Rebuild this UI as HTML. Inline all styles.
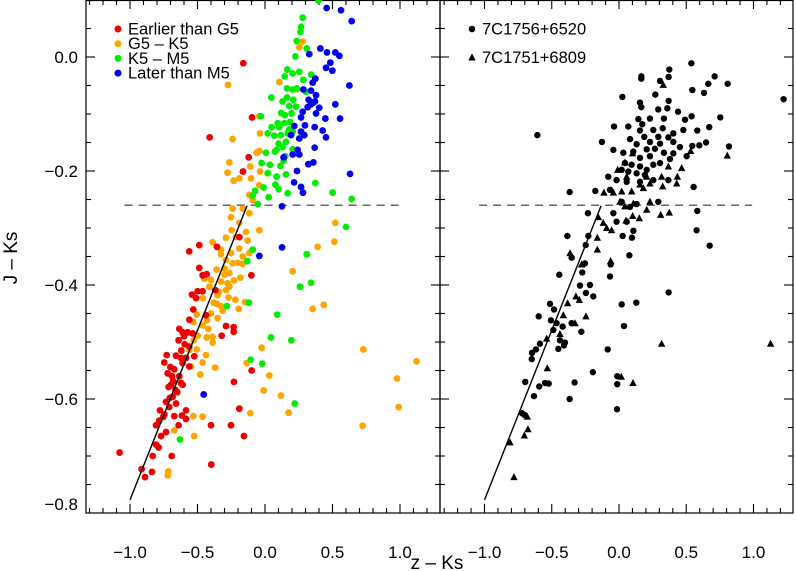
<!DOCTYPE html>
<html><head><meta charset="utf-8"><style>
html,body{margin:0;padding:0;background:#fff}
svg{display:block;font-family:"Liberation Sans",sans-serif}
</style></head><body>
<svg id="chart" width="796" height="571" viewBox="0 0 796 571"></svg>
<script>
const xTicks=[-1.0,-0.5,0.0,0.5,1.0];
const xTickLabels=["−1.0","−0.5","0.0","0.5","1.0"];
const yTicks=[0.0,-0.2,-0.4,-0.6,-0.8];
const yTickLabels=["0.0","−0.2","−0.4","−0.6","−0.8"];
const dashY=-0.26;
const fitLineX=[-1.0,-0.133];
const fitLineY=[-0.777,-0.261];
const redPts=[[-0.161,-0.011],[-0.096,-0.106],[-0.410,-0.141],[-0.121,-0.176],[-0.163,-0.201],[-0.561,-0.341],[-0.487,-0.330],[-0.356,-0.333],[-0.190,-0.316],[-0.487,-0.370],[-0.462,-0.383],[-0.432,-0.381],[-0.101,-0.383],[-0.499,-0.411],[-0.462,-0.411],[-0.541,-0.417],[-0.511,-0.423],[-0.368,-0.409],[-0.531,-0.443],[-0.437,-0.453],[-0.289,-0.472],[-0.232,-0.474],[-0.232,-0.482],[-0.321,-0.489],[-0.635,-0.477],[-0.610,-0.483],[-0.573,-0.483],[-0.536,-0.485],[-0.640,-0.497],[-0.595,-0.504],[-0.561,-0.508],[-0.728,-0.523],[-0.659,-0.524],[-0.622,-0.528],[-0.585,-0.528],[-0.524,-0.525],[-0.746,-0.536],[-0.610,-0.537],[-0.561,-0.543],[-0.672,-0.548],[-0.721,-0.555],[-0.689,-0.560],[-0.635,-0.560],[-0.099,-0.550],[-0.622,-0.572],[-0.696,-0.575],[-0.714,-0.579],[-0.664,-0.584],[-0.610,-0.575],[-0.230,-0.570],[-0.684,-0.596],[-0.733,-0.605],[-0.659,-0.608],[-0.709,-0.614],[-0.778,-0.620],[-0.585,-0.620],[-0.190,-0.617],[-0.753,-0.631],[-0.672,-0.630],[-0.615,-0.629],[-0.585,-0.635],[-0.783,-0.638],[-0.807,-0.646],[-0.640,-0.646],[-0.400,-0.646],[-0.252,-0.646],[-0.733,-0.658],[-0.770,-0.665],[-0.156,-0.665],[-0.807,-0.680],[-0.788,-0.685],[-1.077,-0.694],[-0.832,-0.700],[-0.691,-0.700],[-0.398,-0.715],[-0.914,-0.723],[-0.837,-0.728],[-0.889,-0.737],[-0.650,-0.588],[-0.700,-0.544],[-0.620,-0.515],[-0.680,-0.569],[-0.705,-0.598],[-0.745,-0.627],[-0.600,-0.490],[-0.560,-0.461]];
const orangePts=[[-0.274,-0.049],[0.279,0.027],[0.254,0.017],[0.106,-0.044],[0.235,-0.057],[-0.042,-0.104],[-0.240,-0.144],[-0.037,-0.134],[-0.062,-0.168],[-0.042,-0.165],[-0.264,-0.185],[-0.109,-0.192],[-0.277,-0.203],[-0.190,-0.213],[-0.232,-0.217],[-0.104,-0.213],[-0.037,-0.201],[-0.042,-0.225],[-0.116,-0.242],[-0.091,-0.251],[-0.240,-0.266],[-0.165,-0.266],[-0.252,-0.281],[-0.116,-0.274],[-0.190,-0.291],[-0.141,-0.307],[-0.042,-0.304],[-0.247,-0.304],[-0.289,-0.317],[-0.215,-0.316],[-0.128,-0.322],[-0.388,-0.325],[-0.326,-0.338],[-0.190,-0.336],[-0.116,-0.344],[0.521,-0.291],[0.514,-0.324],[0.390,-0.333],[-0.252,-0.344],[-0.165,-0.350],[-0.326,-0.346],[-0.289,-0.356],[-0.240,-0.362],[-0.202,-0.361],[-0.165,-0.363],[-0.264,-0.379],[-0.358,-0.373],[-0.301,-0.371],[-0.183,-0.387],[-0.450,-0.389],[-0.400,-0.391],[-0.326,-0.394],[-0.277,-0.397],[-0.264,-0.403],[-0.289,-0.409],[-0.412,-0.403],[-0.351,-0.418],[-0.462,-0.423],[-0.220,-0.426],[-0.148,-0.430],[-0.356,-0.433],[-0.326,-0.437],[-0.195,-0.442],[-0.314,-0.445],[-0.400,-0.450],[-0.506,-0.452],[-0.432,-0.462],[-0.351,-0.458],[-0.531,-0.465],[-0.462,-0.471],[-0.420,-0.477],[-0.499,-0.489],[-0.432,-0.492],[-0.388,-0.491],[-0.528,-0.497],[-0.388,-0.501],[-0.506,-0.513],[0.205,-0.376],[0.353,-0.442],[0.435,-0.435],[-0.561,-0.514],[-0.437,-0.523],[-0.462,-0.536],[-0.548,-0.543],[-0.370,-0.545],[-0.136,-0.537],[-0.479,-0.557],[-0.025,-0.510],[0.032,-0.559],[-0.010,-0.585],[0.118,-0.594],[-0.109,-0.625],[0.175,-0.624],[-0.531,-0.630],[-0.462,-0.631],[-0.672,-0.655],[-0.524,-0.665],[-0.716,-0.727],[-0.721,-0.734],[0.728,-0.513],[1.123,-0.534],[0.978,-0.564],[0.990,-0.614],[0.723,-0.647],[-0.300,-0.382],[-0.340,-0.412],[-0.380,-0.431],[-0.270,-0.422],[-0.230,-0.392]];
const greenPts=[[0.279,0.069],[0.267,0.053],[0.262,0.044],[0.235,0.028],[0.309,0.015],[0.225,0.001],[0.165,-0.022],[0.205,-0.029],[0.254,-0.026],[0.146,-0.034],[0.284,-0.040],[0.343,-0.031],[0.163,-0.055],[0.205,-0.057],[0.235,-0.055],[0.047,-0.071],[0.163,-0.071],[0.210,-0.075],[0.304,-0.061],[0.230,-0.087],[0.180,-0.086],[0.146,-0.102],[0.197,-0.099],[-0.030,-0.104],[0.094,-0.116],[0.143,-0.116],[0.106,-0.123],[0.185,-0.114],[0.049,-0.123],[0.020,-0.134],[0.069,-0.138],[0.118,-0.137],[0.168,-0.134],[0.205,-0.131],[0.101,-0.152],[0.131,-0.158],[0.155,-0.149],[0.086,-0.163],[0.205,-0.162],[0.007,-0.168],[0.074,-0.166],[0.150,-0.174],[0.138,-0.182],[0.037,-0.189],[0.114,-0.191],[-0.025,-0.186],[0.020,-0.204],[0.086,-0.210],[0.155,-0.206],[0.077,-0.224],[-0.010,-0.229],[-0.074,-0.235],[0.101,-0.232],[0.168,-0.239],[-0.091,-0.243],[-0.054,-0.258],[0.027,-0.246],[0.373,-0.221],[0.501,-0.238],[0.642,-0.249],[0.600,-0.298],[0.309,-0.346],[0.395,0.099],[-0.091,-0.338],[-0.131,-0.358],[0.311,-0.346],[0.259,-0.403],[0.341,-0.396],[-0.119,-0.431],[-0.282,-0.437],[0.091,-0.452],[0.044,-0.492],[0.195,-0.497],[-0.106,-0.531],[-0.020,-0.538],[0.220,-0.608],[-0.630,-0.671],[0.120,-0.098],[0.180,-0.127],[0.130,-0.078]];
const bluePts=[[0.457,0.086],[0.563,0.082],[0.642,0.063],[0.410,0.015],[0.328,0.005],[0.459,0.008],[0.521,0.008],[0.551,0.002],[0.484,-0.010],[0.452,-0.019],[0.499,-0.024],[0.373,-0.038],[0.353,-0.045],[0.341,-0.059],[0.284,-0.057],[0.378,-0.067],[0.625,-0.050],[0.323,-0.075],[0.353,-0.081],[0.402,-0.089],[0.521,-0.083],[0.316,-0.088],[0.378,-0.099],[0.279,-0.096],[0.267,-0.106],[0.447,-0.108],[0.556,-0.108],[0.217,-0.121],[0.296,-0.120],[0.368,-0.123],[0.267,-0.131],[0.193,-0.137],[0.291,-0.137],[0.427,-0.129],[0.452,-0.141],[0.254,-0.143],[0.242,-0.163],[0.205,-0.171],[0.254,-0.171],[0.368,-0.159],[0.138,-0.176],[0.321,-0.188],[0.358,-0.185],[0.237,-0.200],[0.630,-0.205],[0.215,-0.220],[0.267,-0.228],[0.281,-0.238],[0.126,-0.262],[0.126,-0.334],[-0.042,-0.349],[-0.454,-0.592],[0.340,-0.083],[0.370,-0.078]];
const circlePts=[[0.538,-0.011],[0.374,-0.022],[0.166,-0.034],[0.166,-0.038],[0.305,-0.042],[0.369,-0.035],[0.664,-0.047],[0.711,-0.034],[0.808,-0.047],[0.545,-0.058],[0.632,-0.063],[0.025,-0.070],[0.270,-0.066],[0.156,-0.080],[0.166,-0.088],[0.369,-0.077],[0.359,-0.090],[0.292,-0.092],[0.439,-0.096],[0.540,-0.104],[0.753,-0.106],[1.224,-0.074],[0.144,-0.109],[0.230,-0.108],[0.334,-0.108],[0.491,-0.110],[-0.607,-0.137],[-0.037,-0.122],[0.069,-0.122],[0.173,-0.118],[0.156,-0.129],[0.255,-0.128],[0.325,-0.125],[0.404,-0.134],[0.478,-0.128],[0.582,-0.129],[0.671,-0.123],[0.188,-0.140],[0.292,-0.140],[0.367,-0.141],[0.082,-0.144],[0.131,-0.153],[0.230,-0.149],[0.305,-0.152],[0.404,-0.149],[0.453,-0.158],[-0.127,-0.149],[0.545,-0.156],[0.597,-0.155],[0.647,-0.150],[0.818,-0.157],[-0.042,-0.163],[0.032,-0.168],[0.106,-0.166],[0.206,-0.162],[0.267,-0.161],[0.334,-0.168],[0.404,-0.169],[0.503,-0.174],[0.156,-0.177],[0.230,-0.174],[0.305,-0.186],[0.379,-0.179],[0.044,-0.186],[0.094,-0.189],[0.156,-0.192],[0.206,-0.198],[0.255,-0.189],[0.020,-0.198],[0.069,-0.201],[0.131,-0.204],[0.193,-0.207],[-0.080,-0.210],[-0.018,-0.216],[0.057,-0.219],[0.156,-0.219],[0.255,-0.216],[0.367,-0.216],[0.555,-0.228],[-0.367,-0.237],[-0.176,-0.235],[-0.067,-0.233],[0.020,-0.254],[0.082,-0.263],[0.131,-0.258],[0.292,-0.254],[0.582,-0.270],[-0.231,-0.274],[-0.042,-0.274],[-0.018,-0.289],[0.057,-0.289],[0.107,-0.305],[0.027,-0.314],[0.096,-0.317],[0.577,-0.304],[0.674,-0.331],[-0.384,-0.314],[-0.228,-0.314],[-0.248,-0.330],[-0.352,-0.352],[-0.253,-0.362],[-0.062,-0.364],[0.077,-0.348],[-0.273,-0.378],[-0.067,-0.385],[-0.444,-0.382],[-0.290,-0.401],[-0.216,-0.400],[-0.246,-0.414],[-0.191,-0.420],[0.369,-0.413],[0.020,-0.434],[0.129,-0.431],[-0.513,-0.433],[-0.483,-0.443],[-0.597,-0.455],[-0.506,-0.462],[-0.464,-0.467],[-0.352,-0.467],[-0.488,-0.479],[-0.419,-0.473],[-0.280,-0.482],[0.037,-0.472],[-0.439,-0.497],[-0.402,-0.501],[-0.409,-0.506],[-0.451,-0.512],[-0.588,-0.503],[-0.617,-0.513],[-0.647,-0.519],[-0.649,-0.530],[-0.084,-0.513],[-0.194,-0.553],[-0.697,-0.570],[-0.593,-0.578],[-0.550,-0.572],[-0.523,-0.573],[-0.330,-0.571],[-0.013,-0.560],[-0.013,-0.574],[-0.632,-0.595],[-0.367,-0.600],[-0.015,-0.618],[-0.721,-0.625],[-0.702,-0.628]];
const trianglePts=[[0.329,-0.049],[0.533,-0.165],[0.805,-0.173],[0.101,-0.169],[0.044,-0.185],[-0.010,-0.198],[0.057,-0.210],[0.206,-0.210],[0.317,-0.210],[0.434,-0.210],[0.466,-0.195],[0.367,-0.192],[-0.112,-0.238],[-0.042,-0.238],[0.020,-0.236],[0.094,-0.236],[0.156,-0.224],[0.181,-0.230],[0.230,-0.222],[0.325,-0.227],[0.429,-0.222],[0.007,-0.254],[0.044,-0.262],[0.107,-0.257],[0.206,-0.268],[0.230,-0.254],[0.310,-0.277],[0.374,-0.273],[0.151,-0.283],[0.052,-0.287],[0.102,-0.279],[-0.154,-0.281],[-0.117,-0.291],[-0.092,-0.300],[-0.055,-0.304],[-0.161,-0.317],[-0.161,-0.338],[-0.062,-0.358],[-0.364,-0.344],[-0.278,-0.364],[-0.320,-0.420],[-0.295,-0.426],[-0.382,-0.432],[-0.246,-0.455],[-0.414,-0.453],[-0.327,-0.467],[-0.538,-0.494],[-0.439,-0.486],[0.317,-0.503],[1.127,-0.503],[-0.533,-0.546],[0.017,-0.561],[0.104,-0.572],[-0.682,-0.631],[-0.677,-0.653],[-0.704,-0.664],[-0.811,-0.676],[-0.781,-0.737]];

const NS="http://www.w3.org/2000/svg";
const svg=document.getElementById('chart');
function mk(tag,attrs,parent){const e=document.createElementNS(NS,tag);for(const k in attrs)e.setAttribute(k,attrs[k]);(parent||svg).appendChild(e);return e;}
const Y0=0,Y1=513,VMAX=0.1,VMIN=-0.8;
function yS(v){return Y0+(VMAX-v)/(VMAX-VMIN)*(Y1-Y0);}
const panels=[{x0:86,x1:440,zero:265,scale:135,name:'left'},{x0:440,x1:793,zero:619,scale:134.5,name:'right'}];
function xS(p,v){return p.zero+v*p.scale;}

panels.forEach(p=>{
  const g=mk('g',{});
  
  
  mk('rect',{x:p.x0,y:Y0+0.5,width:p.x1-p.x0,height:Y1-Y0-0.5,fill:'none',stroke:'#000','stroke-width':1.2},g);
  for(let i=-13;i<=13;i++){
    const v=i/10;const x=xS(p,v);
    if(x<=p.x0+1||x>=p.x1-1)continue;
    const L=(i%5===0)?9:5;
    mk('line',{x1:x,x2:x,y1:Y1,y2:Y1-L,stroke:'#000','stroke-width':1.1},g);
    mk('line',{x1:x,x2:x,y1:Y0,y2:Y0+L,stroke:'#000','stroke-width':1.1},g);
  }
  for(let i=-16;i<=2;i++){
    const v=i*0.05;const y=yS(v);
    if(y<Y0+1||y>Y1-1)continue;
    const L=(i%4===0)?9:5;
    mk('line',{x1:p.x0,x2:p.x0+L,y1:y,y2:y,stroke:'#000','stroke-width':1.1},g);
    mk('line',{x1:p.x1,x2:p.x1-L,y1:y,y2:y,stroke:'#000','stroke-width':1.1},g);
  }
  xTicks.forEach((v,i)=>{
    const t=mk('text',{x:xS(p,v),y:558,'text-anchor':'middle','font-size':17},g);
    t.textContent=xTickLabels[i];
    
    
  });
  const d=mk('line',{x1:xS(p,-1.04),x2:xS(p,0.99),y1:yS(dashY),y2:yS(dashY),stroke:'#333','stroke-width':1.2,'stroke-dasharray':'8,6'});
  
  
});
yTicks.forEach((v,i)=>{
  const t=mk('text',{x:78,y:Math.min(yS(v)+6,510),'text-anchor':'end','font-size':17});
  t.textContent=yTickLabels[i];
  
  
});
const xt=mk('text',{x:437,y:569,'text-anchor':'middle','font-size':19});
xt.textContent='z – Ks';


const yt=mk('text',{x:0,y:0,'text-anchor':'middle','font-size':19,transform:'translate(17,258) rotate(-90)'});
yt.textContent='J – Ks';



function dots(pts,color,name){
  const g=mk('g',{});
  
  
  pts.forEach(q=>{
    const c=mk('circle',{cx:xS(panels[0],q[0]),cy:yS(q[1]),r:3.4,fill:color},g);
    
    
  });
}
dots(orangePts,'#ffa500','g5-k5-series');
dots(redPts,'#ee0000','earlier-than-g5-series');
dots(greenPts,'#00ee00','k5-m5-series');
dots(bluePts,'#0000ee','later-than-m5-series');
const gc=mk('g',{});


circlePts.forEach(q=>{
  const c=mk('circle',{cx:xS(panels[1],q[0]),cy:yS(q[1]),r:3.2,fill:'#000'},gc);
  
  
});
const gt=mk('g',{});


trianglePts.forEach(q=>{
  const x=xS(panels[1],q[0]),y=yS(q[1]);
  const t=mk('polygon',{points:`${x},${y-4} ${x-3.7},${y+3} ${x+3.7},${y+3}`,fill:'#000'},gt);
  
  
});
panels.forEach(p=>{
  const l=mk('line',{x1:xS(p,fitLineX[0]),y1:yS(fitLineY[0]),x2:xS(p,fitLineX[1]),y2:yS(fitLineY[1]),stroke:'#000','stroke-width':1.4});
  
  
});
const legL=[['Earlier than G5','#ee0000'],['G5 – K5','#ffa500'],['K5 – M5','#00ee00'],['Later than M5','#0000ee']];
legL.forEach((e,i)=>{
  const g=mk('g',{});
  
  
  const y=29+i*14.7;
  mk('circle',{cx:118,cy:y,r:3.5,fill:e[1]},g);
  const t=mk('text',{x:128,y:y+5.5,'font-size':16.5},g);t.textContent=e[0];
});
[['7C1756+6520','c'],['7C1751+6809','t']].forEach((e,i)=>{
  const g=mk('g',{});
  
  
  const y=29+i*28.5;
  if(e[1]==='c')mk('circle',{cx:472,cy:y,r:3.3,fill:'#000'},g);
  else mk('polygon',{points:`472,${y-4} 468.3,${y+3} 475.7,${y+3}`,fill:'#000'},g);
  const t=mk('text',{x:482,y:y+5.5,'font-size':16.5},g);t.textContent=e[0];
});
</script>
</body></html>
